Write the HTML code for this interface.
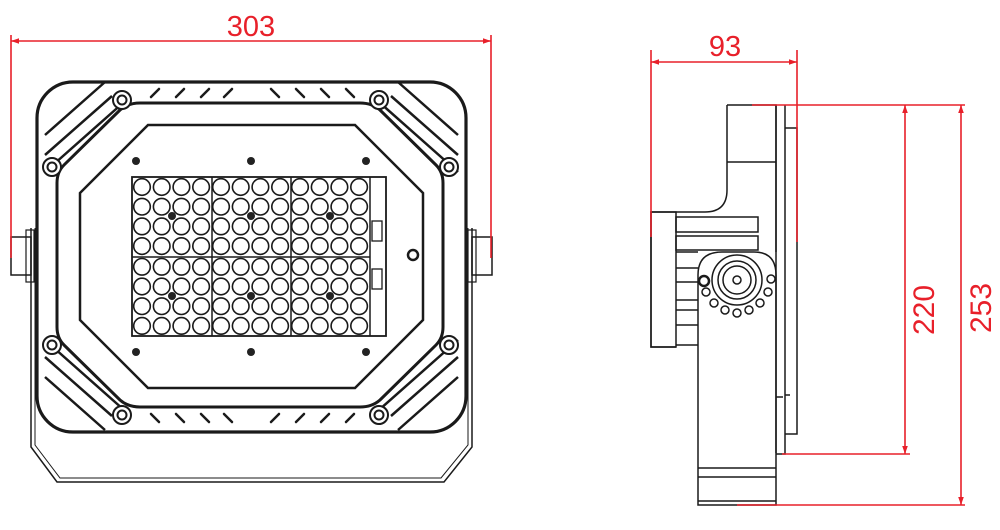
<!DOCTYPE html>
<html><head><meta charset="utf-8"><style>
html,body{margin:0;padding:0;background:#fff;width:1000px;height:530px;overflow:hidden}
svg{display:block}
text{font-family:"Liberation Sans",sans-serif;fill:#e8202a}
</style></head><body>
<svg id="s" width="1000" height="530" viewBox="0 0 1000 530" xmlns="http://www.w3.org/2000/svg">
<defs>
<marker id="a" viewBox="0 0 10 10" refX="10" refY="5" markerWidth="10" markerHeight="8" orient="auto-start-reverse" markerUnits="userSpaceOnUse"><path d="M0,1.5 L10,5 L0,8.5z" fill="#e8202a"/></marker>
</defs>
<g fill="none" stroke="#1a1a1a">
<path d="M31,228 V447 L57,482 H444 L472,447 V228" stroke-width="1.5"/>
<path d="M35,228 V445 L60,478 H441 L468,445 V228" stroke-width="1"/>
<rect x="11" y="237" width="20" height="38" stroke-width="1.5"/>
<rect x="472" y="237" width="20" height="38" stroke-width="1.5"/>
<rect x="26" y="230" width="8" height="52" stroke-width="1.2"/>
<rect x="468" y="230" width="8" height="52" stroke-width="1.2"/>
<rect x="37" y="82" width="429" height="350" rx="36" stroke-width="3.2" fill="#fff"/>
<path d="M140,103 H360 Q372,103 380,110 L436,165 Q443,172 443,183 V327 Q443,338 436,345 L380,400 Q372,407 360,407 H140 Q128,407 120,400 L64,345 Q57,338 57,327 V183 Q57,172 64,165 L120,110 Q128,103 140,103Z" stroke-width="3"/>
<path d="M148,125 H355 L423,193 V320 L355,388 H148 L80,320 V193Z" stroke-width="2.5"/>
<g stroke-width="2.5">
<path d="M45,135 L105,82 M45,155 L112,96 M45,172 L124,102"/>
<path d="M458,135 L398,82 M458,155 L391,96 M458,172 L379,102"/>
<path d="M45,377 L105,430 M45,357 L112,416 M45,340 L124,410"/>
<path d="M458,377 L398,430 M458,357 L391,416 M458,340 L379,410"/>
</g>
<g id="slots" stroke-width="2.5" stroke-linecap="round"></g>
<g id="bolts" stroke-width="2"></g>
<rect x="132" y="177" width="254" height="159" stroke-width="1.8"/>
<path d="M212,177 V336 M291,177 V336 M370,177 V336 M132,257 H370" stroke-width="1.5"/>
<g id="leds" stroke-width="1.6"></g>
<rect x="372" y="221" width="10" height="20" stroke-width="1.3"/>
<rect x="372" y="269" width="10" height="20" stroke-width="1.3"/>
<circle cx="413" cy="255" r="5" stroke-width="2.5"/>
</g>
<g id="scr" fill="#222"></g>

<g fill="none" stroke="#1a1a1a" stroke-width="1.5">
<path d="M727,105 H776 V252 M727,105 V190 Q727,212 705,212 H651 V347 H676"/>
<path d="M727,162 H776"/>
<rect x="651" y="212" width="25" height="135"/>
<rect x="676" y="217" width="82" height="15"/>
<rect x="676" y="236" width="82" height="14"/>
<path d="M676,268 H698 M676,282 H698 M676,300 H698 M676,310 H698 M676,325 H698 M676,345 H698 M676,252 H698"/>
<path d="M698,505 V275 Q698,252 722,252 H754 Q776,252 776,275 V505 Z" fill="#fff"/>
<path d="M698,468 H776 M698,477 H776 M698,501 H776"/>
<circle cx="737" cy="280" r="25"/>
<circle cx="737" cy="280" r="19"/>
<circle cx="737" cy="280" r="14"/>
<circle cx="737" cy="280" r="4"/>
<circle cx="704" cy="281" r="5" stroke-width="2.5"/>
<g id="holes"></g>
<path d="M776,105 V453 M776,454 H785 V105 M785,128 H797 V434 H785" />
<path d="M785,395 H790 M776,397 H783"/>
</g>

<g stroke="#e8202a" stroke-width="1.6" fill="none">
<path d="M11,35 V258 M491,35 V258"/>
<path d="M11,41 H491" marker-start="url(#a)" marker-end="url(#a)"/>
<path d="M651,50 V237 M797,50 V242"/>
<path d="M651,62 H797" marker-start="url(#a)" marker-end="url(#a)"/>
<path d="M752,105 H965 M737,505 H965 M782,454 H910"/>
<path d="M905,105 V454" marker-start="url(#a)" marker-end="url(#a)"/>
<path d="M961,105 V505" marker-start="url(#a)" marker-end="url(#a)"/>
</g>
<text x="251" y="36" font-size="29" text-anchor="middle">303</text>
<text x="725" y="56" font-size="29" text-anchor="middle">93</text>
<text transform="translate(934,310) rotate(-90)" font-size="30" text-anchor="middle">220</text>
<text transform="translate(991,308) rotate(-90)" font-size="30" text-anchor="middle">253</text>
</svg>
<script>
var NS="http://www.w3.org/2000/svg";
function el(p,t,a){var e=document.createElementNS(NS,t);for(var k in a)e.setAttribute(k,a[k]);document.getElementById(p).appendChild(e);}
for(var m=0;m<3;m++)for(var c=0;c<4;c++)for(var r=0;r<8;r++)
 el("leds","circle",{cx:142+m*79+c*19.7,cy:187+r*19.7+(r>3?1:0),r:8.3});
[[122,100],[379,100],[52,167],[449,167],[52,345],[449,345],[122,415],[379,415]].forEach(function(p){
 el("bolts","circle",{cx:p[0],cy:p[1],r:9,fill:"#fff"});el("bolts","circle",{cx:p[0],cy:p[1],r:4.5});});
[155,180,205,228].forEach(function(x){el("slots","path",{d:"M"+(x-4)+",97 L"+(x+4)+",89"});el("slots","path",{d:"M"+(x-4)+",414 L"+(x+4)+",422"});});
[275,300,325,350].forEach(function(x){el("slots","path",{d:"M"+(x-4)+",89 L"+(x+4)+",97"});el("slots","path",{d:"M"+(x-4)+",422 L"+(x+4)+",414"});});
[[136,161],[251,161],[366,161],[136,352],[251,352],[366,352],[172,216],[251,216],[330,216],[172,296],[251,296],[330,296]].forEach(function(p){el("scr","circle",{cx:p[0],cy:p[1],r:4});});
[[706,292],[714,303],[725,310],[737,313],[749,310],[760,303],[768,292],[771,279]].forEach(function(p){el("holes","circle",{cx:p[0],cy:p[1],r:4});});
</script>
</body></html>
